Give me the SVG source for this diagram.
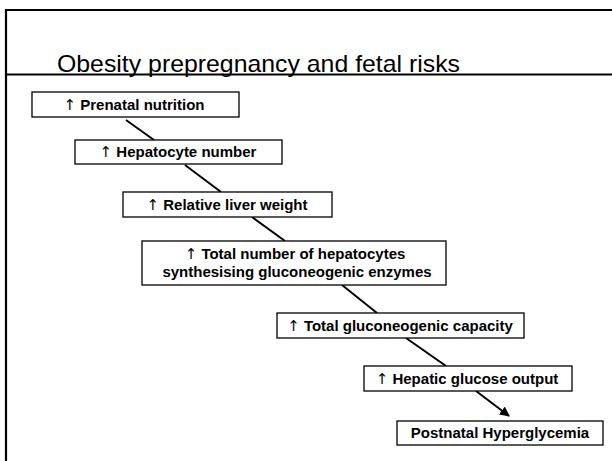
<svg xmlns="http://www.w3.org/2000/svg" width="612" height="461" viewBox="0 0 612 461">
  <style>
    .frame { stroke: #000; stroke-width: 2.2; fill: none; }
    .title { font-family: "Liberation Sans", Arial, sans-serif; font-size: 24px; fill: #000; }
    .box { fill: #fff; stroke: #000; stroke-width: 1.3; }
    .lbl { font-family: "Liberation Sans", Arial, sans-serif; font-size: 15px; font-weight: bold; fill: #000; text-anchor: middle; }
    .up { font-family: "DejaVu Sans", "Liberation Sans", sans-serif; font-weight: normal; fill: #000; }
    .link { stroke: #000; stroke-width: 2; fill: none; }
  </style>
  <defs>
    <marker id="head" viewBox="0 0 10 10" refX="9" refY="5" markerWidth="5" markerHeight="5" orient="auto" markerUnits="strokeWidth">
      <path d="M0,0 L10,5 L0,10 z" fill="#000"/>
    </marker>
  </defs>

  <rect width="612" height="461" fill="#fff"/>

  <!-- slide frame and title rule -->
  <path class="frame" d="M6,461 V10 H612"/>
  <path class="frame" d="M6,74.5 H612" stroke-width="2.6"/>
  <text class="title" x="57" y="72" textLength="403" lengthAdjust="spacingAndGlyphs">Obesity prepregnancy and fetal risks</text>

  <!-- connectors -->
  <g id="connectors">
    <line class="link" x1="126" y1="120" x2="154" y2="140"/>
    <line class="link" x1="185" y1="165" x2="221" y2="192"/>
    <line class="link" x1="252" y1="217" x2="285" y2="241"/>
    <line class="link" x1="342" y1="285" x2="377" y2="313"/>
    <line class="link" x1="406" y1="338" x2="446" y2="366"/>
    <line class="link" x1="476" y1="391" x2="509" y2="416" marker-end="url(#head)"/>
  </g>

  <g id="prenatal-nutrition">
    <rect class="box" x="32" y="92" width="207" height="25" stroke="#555"/>
    <text class="lbl" x="134" y="110"><tspan class="up">↑</tspan> Prenatal nutrition</text>
  </g>

  <g id="hepatocyte-number">
    <rect class="box" x="75" y="140" width="207" height="24"/>
    <text class="lbl" x="178" y="157"><tspan class="up">↑</tspan> Hepatocyte number</text>
  </g>

  <g id="relative-liver-weight">
    <rect class="box" x="123" y="192" width="209" height="25"/>
    <text class="lbl" x="227" y="210"><tspan class="up">↑</tspan> Relative liver weight</text>
  </g>

  <g id="gluconeogenic-hepatocytes">
    <rect class="box" x="142" y="241" width="304" height="44"/>
    <text class="lbl" x="295" y="259"><tspan class="up">↑</tspan> Total number of hepatocytes</text>
    <text class="lbl" x="297" y="276.5">synthesising gluconeogenic enzymes</text>
  </g>

  <g id="gluconeogenic-capacity">
    <rect class="box" x="277" y="313" width="247" height="25"/>
    <text class="lbl" x="400" y="331"><tspan class="up">↑</tspan> Total gluconeogenic capacity</text>
  </g>

  <g id="hepatic-glucose-output">
    <rect class="box" x="364" y="366" width="208" height="25"/>
    <text class="lbl" x="467" y="384"><tspan class="up">↑</tspan> Hepatic glucose output</text>
  </g>

  <g id="postnatal-hyperglycemia">
    <rect class="box" x="397" y="421" width="206" height="24"/>
    <text class="lbl" x="500" y="438">Postnatal Hyperglycemia</text>
  </g>
</svg>
